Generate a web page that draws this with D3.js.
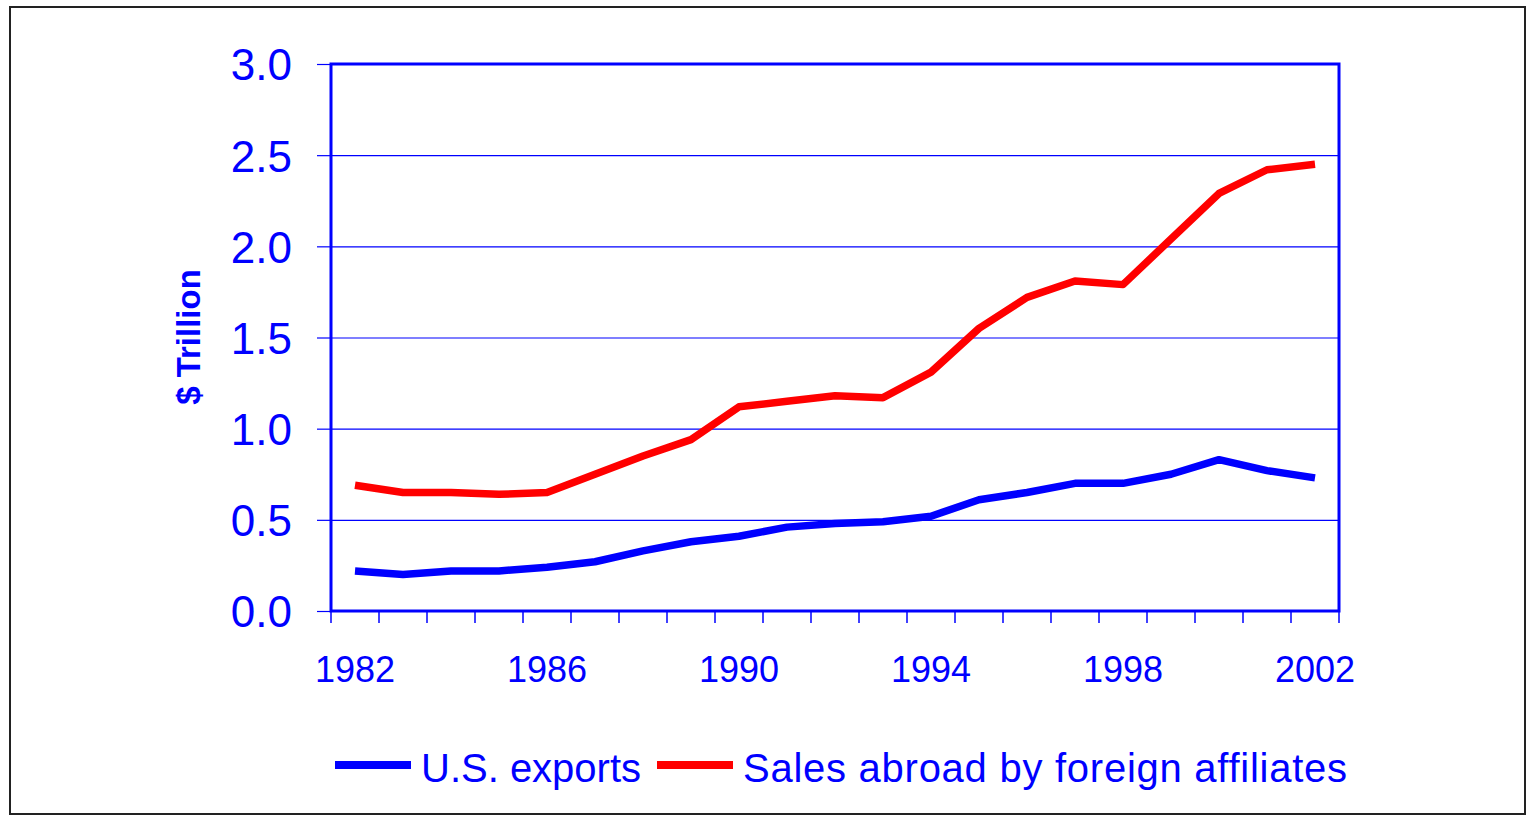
<!DOCTYPE html>
<html>
<head>
<meta charset="utf-8">
<script src="https://cdn.jsdelivr.net/npm/d3@7"></script>
<style>
  body { margin: 0; background: white; }
  svg { display: block; font-family: "Liberation Sans", Arial, sans-serif; }
</style>
</head>
<body>
<div id="chart"></div>
<script>
// Data ($ trillion)
var years = [1982, 1983, 1984, 1985, 1986, 1987, 1988, 1989, 1990, 1991, 1992,
             1993, 1994, 1995, 1996, 1997, 1998, 1999, 2000, 2001, 2002];
var exports_us = [0.22, 0.20, 0.22, 0.22, 0.24, 0.27, 0.33, 0.38, 0.41, 0.46, 0.48,
                  0.49, 0.52, 0.61, 0.65, 0.70, 0.70, 0.75, 0.83, 0.77, 0.73];
var sales_affiliates = [0.69, 0.65, 0.65, 0.64, 0.65, 0.75, 0.85, 0.94, 1.12, 1.15, 1.18,
                        1.17, 1.31, 1.55, 1.72, 1.81, 1.79, 2.04, 2.29, 2.42, 2.45];
var yTicks = [0, 0.5, 1.0, 1.5, 2.0, 2.5, 3.0];
var xLabels = [1982, 1986, 1990, 1994, 1998, 2002];
var seriesNames = ["U.S. exports", "Sales abroad by foreign affiliates"];
var seriesColors = ["#0000ff", "#ff0000"];

// Chart variables
var W = 1528, H = 815;
var margin = {top: 64, left: 331};
var width = 1008, height = 547;
var blue = "#0000ff";

var svg = d3.select("#chart").append("svg")
    .attr("width", W)
    .attr("height", H);

// outer frame
svg.append("rect")
    .attr("x", 10).attr("y", 7)
    .attr("width", 1515).attr("height", 807)
    .style("fill", "white")
    .style("stroke", "#222")
    .style("stroke-width", 2);

var x = d3.scaleBand()
    .domain(years)
    .range([0, width]);
var y = d3.scaleLinear()
    .domain([0, 3])
    .range([height, 0]);

var chart = svg.append("g")
    .attr("transform", "translate(" + margin.left + "," + margin.top + ")");

// gridlines
chart.append("g")
    .attr("class", "grid")
    .call(d3.axisLeft(y).tickValues(yTicks).tickSize(-width).tickFormat(""))
    .call(function (g) { g.select(".domain").remove(); })
    .selectAll("line")
    .style("stroke", blue)
    .style("stroke-width", 1.2);

// y axis
var yAxis = chart.append("g")
    .call(d3.axisLeft(y).tickValues(yTicks).tickSize(14).tickPadding(25)
        .tickFormat(d3.format(".1f")));
yAxis.select(".domain").remove();
yAxis.selectAll("line").style("stroke", blue).style("stroke-width", 1.2);
yAxis.selectAll("text")
    .style("fill", blue)
    .style("font-size", "44px")
    .attr("dy", "0.36em");

// x ticks at category boundaries
var xTickPos = years.map(function (d) { return x(d); }).concat([width]);
chart.append("g")
    .selectAll("line")
    .data(xTickPos)
    .enter().append("line")
    .attr("x1", function (d) { return d; })
    .attr("x2", function (d) { return d; })
    .attr("y1", height)
    .attr("y2", height + 12)
    .style("stroke", blue)
    .style("stroke-width", 1.5);

chart.append("g")
    .selectAll("text")
    .data(xLabels)
    .enter().append("text")
    .attr("x", function (d) { return x(d) + x.bandwidth() / 2; })
    .attr("y", height + 71)
    .style("text-anchor", "middle")
    .style("font-size", "36px")
    .style("fill", blue)
    .text(function (d) { return d; });

// plot frame
chart.append("rect")
    .attr("width", width)
    .attr("height", height)
    .style("fill", "none")
    .style("stroke", blue)
    .style("stroke-width", 3);

// lines
var line = d3.line()
    .x(function (d, i) { return x(years[i]) + x.bandwidth() / 2; })
    .y(function (d) { return y(d); });

[exports_us, sales_affiliates].forEach(function (s, k) {
    chart.append("path")
        .datum(s)
        .attr("d", line)
        .style("fill", "none")
        .style("stroke", seriesColors[k])
        .style("stroke-width", 7.5)
        .style("stroke-linejoin", "round");
});

// y label
svg.append("text")
    .attr("transform", "translate(200,337) rotate(-90)")
    .style("text-anchor", "middle")
    .style("font-size", "33px")
    .style("font-weight", "bold")
    .style("fill", blue)
    .text("$ Trillion");

// legend
var legendX = [335, 657];
var legendTextW = [220, 604];
seriesNames.forEach(function (name, k) {
    svg.append("line")
        .attr("x1", legendX[k]).attr("x2", legendX[k] + 76)
        .attr("y1", 765).attr("y2", 765)
        .style("stroke", seriesColors[k])
        .style("stroke-width", 8);
    svg.append("text")
        .attr("x", legendX[k] + 86)
        .attr("y", 782)
        .attr("textLength", legendTextW[k])
        .style("font-size", "40px")
        .style("fill", blue)
        .text(name);
});
</script>
</body>
</html>
